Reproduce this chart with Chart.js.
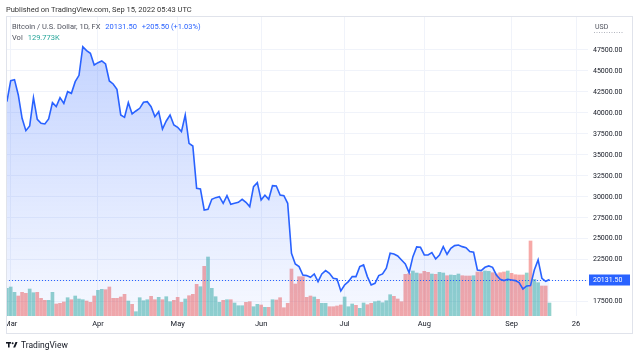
<!DOCTYPE html>
<html><head><meta charset="utf-8">
<script src="https://cdn.jsdelivr.net/npm/chart.js@4/dist/chart.umd.min.js"></script>
<style>html,body{margin:0;padding:0;background:#fff;}canvas{display:block;}</style>
</head><body>
<canvas id="c" width="640" height="356"></canvas>
<script>
// Weekday bars (FX feed), first bar = Feb 28 (index -1), Mar 1 = index 0
const firstIndex = -1;
const closes = [
41342,43845,43964,42137,39355,37885,38442,41819,39236,38760,38680,39276,41223,40746,41819,41143,42534,42335,43726,44481,
47897,47421,47103,45712,45990,46189,45831,43805,43448,42812,39753,39475,41223,39872,40230,40548,41263,41342,40746,39554,
40150,38084,39038,39753,38561,38283,37766,39753,36376,36058,31012,30933,28430,28509,29700,29899,30019,29224,30138,29105,
29224,29343,29700,29343,28827,31211,31688,29621,30178,29700,31330,31290,30218,30138,29224,23265,21993,21675,20681,20602,
20403,20800,19887,20800,21198,20880,20284,20205,18774,19489,19887,20483,20483,21675,21873,20483,19489,19688,20602,20800,
21476,23264,23184,22946,22469,21993,20959,22866,24019,23979,23065,23065,23344,22589,23065,24058,23145,23860,24178,24257,
24058,23939,23463,23383,21277,21198,21595,21754,21595,20681,20165,20006,20165,20085,20006,19767,19013,19370,19410,21277,
22469,20284,19926,20131.5];
const volumesK = [
277,290,237,200,237,227,270,233,237,177,157,157,237,120,127,140,183,163,200,170,
163,150,137,200,257,267,263,290,177,177,190,217,150,117,43,183,153,163,197,163,
187,163,193,143,157,187,137,170,203,217,317,293,497,590,277,193,137,157,163,163,
130,103,103,137,143,93,117,110,87,87,163,160,183,83,127,470,320,393,393,187,
200,190,167,127,127,93,93,100,110,190,93,120,107,77,130,113,127,143,150,133,
153,213,197,170,143,417,423,450,430,423,447,437,420,417,437,430,403,410,407,420,
403,400,400,403,440,440,450,447,433,420,433,440,450,427,413,410,410,430,750,367,
333,300,300,129.773];
// u = up (teal) bar, d = down (red) bar
const volumeDir = (
  "uuuddduudd duuddduduu uddduudddd dduduuuudd uduudddudd " +
  "duduuuudud uuudduudud uddddddddd duduuddddu uuduudduuu " +
  "uuddddduud dduduuduuu dddudduudd dduddddudu uddu").replace(/ /g, '');
const monthTickIdx = [0,23,44,66,88,109,132,149];
const monthTickLabels = ['Mar','Apr','May','Jun','Jul','Aug','Sep','26'];
const priceTicks = [17500,20000,22500,25000,27500,30000,32500,35000,37500,40000,42500,45000,47500];
const lastPrice = 20131.5, change = '+205.50', changePct = '(+1.03%)', lastVol = '129.773K';

const UP = 'rgba(38,166,154,0.5)', DOWN = 'rgba(239,83,80,0.5)';
const FONT = 'Roboto, "Liberation Sans", sans-serif';
const dirs = volumeDir.split('');

const overlay = {
  id: 'overlay',
  afterDatasetsDraw(chart) {
    const {ctx, chartArea: a, scales: {y}} = chart;
    const py = Math.round(y.getPixelForValue(lastPrice)) + 0.5;
    ctx.save();
    ctx.strokeStyle = '#2962ff'; ctx.lineWidth = 1; ctx.setLineDash([1, 2]);
    ctx.beginPath(); ctx.moveTo(a.left, py); ctx.lineTo(a.right, py); ctx.stroke();
    ctx.restore();
  },
  afterDraw(chart) {
    const {ctx, chartArea: a, scales: {y}} = chart;
    ctx.save();
    ctx.fillStyle = '#fff'; ctx.fillRect(0, a.bottom + 1, a.left, 16);
    ctx.strokeStyle = '#e0e3eb'; ctx.lineWidth = 1;
    ctx.strokeRect(6.5, 16.5, 626, 317);
    ctx.textBaseline = 'alphabetic'; ctx.textAlign = 'left';
    ctx.font = '7.5px ' + FONT; ctx.fillStyle = '#333';
    ctx.fillText('Published on TradingView.com, Sep 15, 2022 05:43 UTC', 6, 11.5);
    let x = 12; ctx.fillStyle = '#50535e';
    const t1 = 'Bitcoin / U.S. Dollar, 1D, FX';
    ctx.fillText(t1, x, 28.5); x += ctx.measureText(t1).width + 5;
    ctx.fillStyle = '#2962ff';
    const t2 = lastPrice.toFixed(2);
    ctx.fillText(t2, x, 28.5); x += ctx.measureText(t2).width + 5;
    ctx.fillText(change + ' ' + changePct, x, 28.5);
    ctx.fillStyle = '#50535e'; ctx.fillText('Vol', 12, 39.5);
    ctx.fillStyle = '#26a69a'; ctx.fillText(lastVol, 12 + ctx.measureText('Vol').width + 5, 39.5);
    ctx.fillStyle = '#50535e'; ctx.font = '7px ' + FONT;
    ctx.fillText('USD', 595, 29);
    ctx.strokeStyle = '#b2b5be'; ctx.setLineDash([1, 1.5]);
    ctx.beginPath(); ctx.moveTo(594, 32.5); ctx.lineTo(624, 32.5); ctx.stroke();
    ctx.setLineDash([]);
    const py = y.getPixelForValue(lastPrice);
    ctx.fillStyle = '#2962ff';
    ctx.fillRect(589, Math.round(py) - 5.5, 41, 11);
    ctx.fillStyle = '#fff'; ctx.font = '7px ' + FONT; ctx.textBaseline = 'middle';
    ctx.fillText(lastPrice.toFixed(2), 593, Math.round(py) + 0.5);
    ctx.fillStyle = '#131722';
    ctx.fillRect(6, 342, 5, 1.6); ctx.fillRect(8, 342, 1.6, 5.5);
    ctx.beginPath(); ctx.arc(12.6, 343.2, 1, 0, Math.PI * 2); ctx.fill();
    ctx.beginPath(); ctx.moveTo(13.2, 347.5); ctx.lineTo(15.5, 342); ctx.lineTo(17.5, 342); ctx.lineTo(15.2, 347.5); ctx.closePath(); ctx.fill();
    ctx.textBaseline = 'alphabetic'; ctx.font = '8.5px ' + FONT; ctx.fillStyle = '#131722';
    ctx.fillText('TradingView', 21, 348);
    ctx.restore();
  }
};

const ctx = document.getElementById('c').getContext('2d');
new Chart(ctx, {
  data: {
    datasets: [
      {
        type: 'line', order: 0, yAxisID: 'y',
        data: closes.map((v, k) => ({x: k + firstIndex, y: v})),
        borderColor: '#2962ff', borderWidth: 1.6, pointRadius: 0, tension: 0,
        fill: 'start',
        backgroundColor: (c) => {
          const a = c.chart.chartArea;
          if (!a) return 'rgba(41,98,255,0.15)';
          const g = c.chart.ctx.createLinearGradient(0, a.top, 0, a.bottom);
          g.addColorStop(0, 'rgba(41,98,255,0.30)');
          g.addColorStop(1, 'rgba(41,98,255,0.04)');
          return g;
        }
      },
      {
        type: 'bar', order: 1, yAxisID: 'yv',
        data: volumesK.map((v, k) => ({x: k + firstIndex, y: v})),
        backgroundColor: volumesK.map((v, k) => dirs[k] === 'd' ? DOWN : UP),
        barThickness: 3, borderWidth: 0
      }
    ]
  },
  options: {
    responsive: false, animation: false, events: [],
    layout: {padding: {left: 6, top: 16, right: 8, bottom: 23}},
    plugins: {legend: {display: false}, tooltip: {enabled: false}},
    scales: {
      x: {
        type: 'linear', position: 'bottom', min: -1.24, max: 152.15, offset: false,
        afterBuildTicks: (s) => { s.ticks = monthTickIdx.map(v => ({value: v})); },
        afterFit: (s) => { s.height = 17; },
        ticks: {callback: (v, i) => monthTickLabels[i], autoSkip: false, maxRotation: 0,
                color: '#131722', font: {size: 7.5, family: FONT}, padding: 4},
        grid: {color: '#f0f3fa', drawTicks: false, offset: false},
        border: {display: false}
      },
      y: {
        type: 'linear', position: 'right', min: 15788, max: 51553,
        afterBuildTicks: (s) => { s.ticks = priceTicks.map(v => ({value: v})); },
        afterFit: (s) => { s.width = 44; },
        ticks: {callback: (v) => Number(v).toFixed(2), color: '#131722',
                font: {size: 7, family: FONT}, padding: 5},
        grid: {color: '#f0f3fa', drawTicks: false},
        border: {display: false}
      },
      yv: {type: 'linear', display: false, min: 0, max: 3000}
    }
  },
  plugins: [overlay]
});
</script>
</body></html>
